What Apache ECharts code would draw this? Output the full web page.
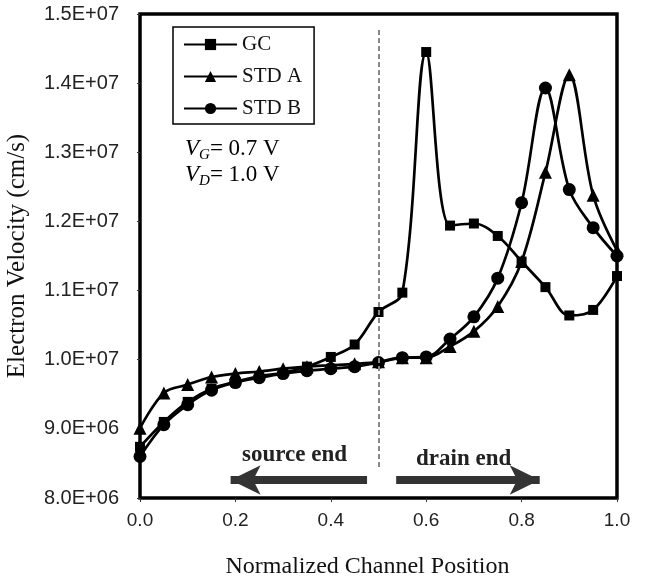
<!DOCTYPE html>
<html>
<head>
<meta charset="utf-8">
<script src="https://cdn.jsdelivr.net/npm/echarts@6/dist/echarts.min.js"></script>
<style>html,body{margin:0;padding:0;background:#fff;}#c{width:646px;height:581px;}</style>
</head>
<body>
<div id="c"></div>
<script>
const positions = [0,0.05,0.1,0.15,0.2,0.25,0.3,0.35,0.4,0.45,0.5,0.55,0.6,0.65,0.7,0.75,0.8,0.85,0.9,0.95,1.0];
const gcValues = [8.74,9.10,9.39,9.58,9.68,9.76,9.81,9.90,10.04,10.22,10.69,10.97,14.45,11.94,11.97,11.79,11.42,11.05,10.64,10.72,11.21];
const stdAValues = [9.01,9.52,9.64,9.75,9.80,9.83,9.87,9.90,9.92,9.94,9.97,10.03,10.03,10.19,10.41,10.77,11.42,12.71,14.12,12.38,11.58];
const stdBValues = [8.60,9.06,9.35,9.56,9.67,9.74,9.80,9.84,9.87,9.90,9.96,10.03,10.04,10.30,10.62,11.18,12.27,13.93,12.46,11.91,11.50];
const seriesNames = ['GC','STD A','STD B'];
const valueScale = 1e6;
const xTickLabels = ['0.0','0.2','0.4','0.6','0.8','1.0'];
const yTickLabels = ['8.0E+06','9.0E+06','1.0E+07','1.1E+07','1.2E+07','1.3E+07','1.4E+07','1.5E+07'];
const dividerX = 0.5;
const dividerRange = [8.45e6, 14.77e6];
const sourceArrow = [[0.476, 8.26e6],[0.19, 8.26e6]];
const drainArrow = [[0.537, 8.26e6],[0.838, 8.26e6]];

function pairs(vals){ return positions.map((x,i)=>[x, vals[i]*valueScale]); }

const chart = echarts.init(document.getElementById('c'), null, {renderer:'canvas'});
const serif = '"Liberation Serif", "Times New Roman", serif';
const sans = '"Liberation Sans", Arial, sans-serif';
const lineStyle = {color:'#000', width:2.7};
const baseSeries = {
  type:'line', smooth:0.35, lineStyle:lineStyle,
  itemStyle:{color:'#000'}, emphasis:{disabled:true}, z:3
};
const richV = {
  v:{fontFamily:serif, fontStyle:'italic', fontSize:23, color:'#111', lineHeight:28, verticalAlign:'middle'},
  s:{fontFamily:serif, fontStyle:'italic', fontSize:15, color:'#111', lineHeight:28, verticalAlign:'bottom', padding:[9,0,0,0]},
  t:{fontFamily:serif, fontSize:23, color:'#111', lineHeight:28, verticalAlign:'middle'}
};
chart.setOption({
  animation:false,
  backgroundColor:'#fff',
  grid:{left:140, right:29, top:14, bottom:83, outerBoundsMode:'none', containLabel:false,
    show:true, borderColor:'#000', borderWidth:3.5, backgroundColor:'transparent'},
  legend:{
    orient:'vertical', left:173, top:27,
    data:seriesNames,
    borderColor:'#000', borderWidth:1.5, borderRadius:0,
    padding:[7,12,5,10], itemGap:11, itemWidth:53, itemHeight:14,
    textStyle:{fontFamily:serif, fontSize:21, color:'#111'}
  },
  xAxis:{
    type:'value', min:0, max:1, interval:0.2,
    name:'Normalized Channel Position', nameLocation:'middle', nameGap:57,
    nameTextStyle:{fontFamily:serif, fontSize:24, color:'#111', padding:[0,22,0,0]},
    axisLine:{show:false},
    axisTick:{show:true, length:4, lineStyle:{color:'#333'}},
    axisLabel:{margin:13, fontFamily:sans, fontSize:19, color:'#222',
      formatter:(v)=>xTickLabels[Math.round(v/0.2)]},
    splitLine:{show:false}
  },
  yAxis:{
    type:'value', min:8e6, max:1.5e7, interval:1e6,
    name:'Electron Velocity (cm/s)', nameLocation:'middle', nameGap:110,
    nameTextStyle:{fontFamily:serif, fontSize:25, color:'#111'},
    axisLine:{show:false},
    axisTick:{show:true, length:3, lineStyle:{color:'#333'}},
    axisLabel:{margin:21, fontFamily:sans, fontSize:20, color:'#222',
      formatter:(v)=>yTickLabels[Math.round((v-8e6)/1e6)]},
    splitLine:{show:false}
  },
  graphic:[
    {type:'text', left:185, top:137, style:{text:'{v|V}{s|G}{t|= 0.7 V}', rich:richV}},
    {type:'text', left:185, top:163, style:{text:'{v|V}{s|D}{t|= 1.0 V}', rich:richV}},
    {type:'text', left:242, top:444, style:{text:'source end', fontFamily:serif, fontWeight:'bold', fontSize:23, fill:'#222'}},
    {type:'text', left:416, top:448, style:{text:'drain end', fontFamily:serif, fontWeight:'bold', fontSize:23, fill:'#222'}}
  ],
  series:[
    Object.assign({}, baseSeries, {name:seriesNames[0], data:pairs(gcValues), symbol:'rect', symbolSize:10,
      markLine:{silent:true, symbol:['none','none'], label:{show:false},
        lineStyle:{color:'#888', width:2, type:[5,3]},
        data:[[{coord:[dividerX, dividerRange[0]]},{coord:[dividerX, dividerRange[1]]}]]}}),
    Object.assign({}, baseSeries, {name:seriesNames[1], data:pairs(stdAValues), symbol:'triangle', symbolSize:13,
      markLine:{silent:true, symbol:['none','arrow'], symbolSize:[22,30], label:{show:false},
        lineStyle:{color:'#333', width:8, type:'solid'}, itemStyle:{color:'#333'},
        data:[[{coord:sourceArrow[0]},{coord:sourceArrow[1]}],[{coord:drainArrow[0]},{coord:drainArrow[1]}]]}}),
    Object.assign({}, baseSeries, {name:seriesNames[2], data:pairs(stdBValues), symbol:'circle', symbolSize:13})
  ]
});
</script>
</body>
</html>
